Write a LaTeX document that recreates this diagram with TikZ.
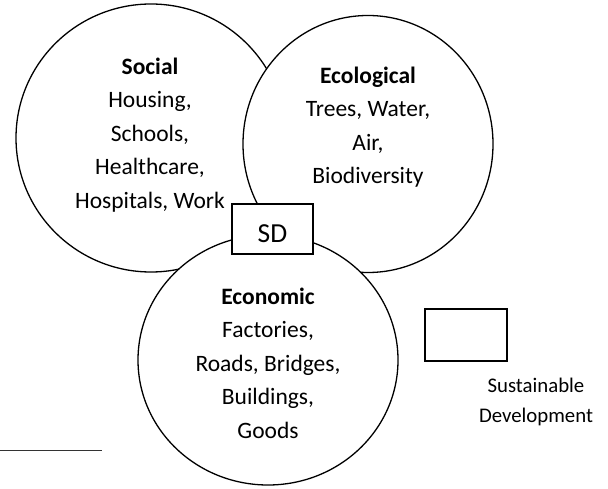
\documentclass[tikz,border=0pt]{standalone}
\usepackage{fontspec}
\setmainfont{Carlito}
\usepackage{tikz}
\usetikzlibrary{shapes.geometric, positioning}

\begin{document}
\begin{tikzpicture}[x=1pt, y=-1pt]
    \tikzstyle{pillar} = [ellipse, draw=black, fill=white, line width=1.3pt, inner sep=0pt]
    \tikzstyle{words} = [align=center, inner sep=0pt, font=\fontsize{23.5}{33.5}\selectfont]
    \tikzstyle{tag} = [rectangle, draw=black, fill=white, line width=1.3pt, minimum width=81pt, minimum height=50pt, inner sep=0pt]
    \useasboundingbox (0,0) rectangle (608,489);

    % the three pillars, each one covers the one before
    \node (social) [pillar, minimum width=270pt, minimum height=268pt] at (151,138) {};
    \node (ecological) [pillar, minimum width=250pt, minimum height=257pt] at (368,144) {};
    \node (economic) [pillar, minimum width=260pt, minimum height=250pt] at (268,360) {};

    \node (socialtext) [words, xshift=-1pt, yshift=3pt] at (social.center) {\textbf{Social}\\Housing,\\Schools,\\Healthcare,\\Hospitals, Work};
    \node (ecotext) [words, yshift=17pt] at (ecological.center) {\textbf{Ecological}\\Trees, Water,\\Air,\\Biodiversity};
    \node (econtext) [words, yshift=-3pt] at (economic.center) {\textbf{Economic}\\Factories,\\Roads, Bridges,\\Buildings,\\Goods};

    % overlap
    \node (sd) [tag, text height=27.7pt, text depth=0pt, font=\fontsize{27.5}{30}\selectfont] at (272.5,229) {SD};

    % key
    \node (key) [tag, minimum width=82pt, minimum height=52pt] at (466,335) {};
    \node (keytext) [words, font=\fontsize{20.8}{30}\selectfont] at (536,402) {Sustainable\\Development};

    \coordinate (ruleA) at (0,450);
    \coordinate (ruleB) at (102,450);
    \draw [line width=1pt, black!80] (ruleA) -- (ruleB);
\end{tikzpicture}
\end{document}
